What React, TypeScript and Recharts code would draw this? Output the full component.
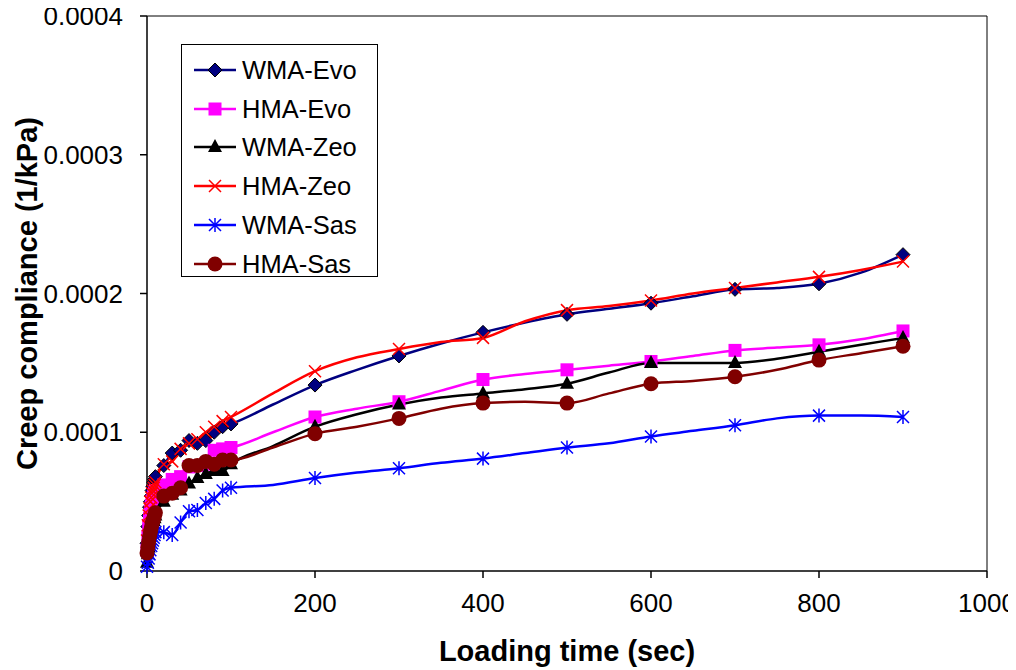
import React from 'react';
import { LineChart, Line, XAxis, YAxis, ReferenceLine } from 'recharts';

// loading time (sec)
const times = [0, 1, 2, 3, 4, 5, 6, 7, 8, 9, 10, 20, 30, 40, 50, 60, 70, 80, 90, 100,
  150, 200, 250, 300, 350, 400, 450, 500, 550, 600, 650, 700, 750, 800, 850, 900];
// times that carry a marker in the original (the rest only shape the smooth line)
const markerTimes = [0, 1, 2, 3, 4, 5, 6, 7, 8, 9, 10, 20, 30, 40, 50, 60, 70, 80, 90, 100,
  200, 300, 400, 500, 600, 700, 800, 900];

// creep compliance (1/kPa)
const wmaEvo = [2.0e-5, 3.2e-5, 4.0e-5, 4.6e-5, 5.0e-5, 5.4e-5, 5.8e-5, 6.1e-5, 6.4e-5, 6.6e-5, 6.8e-5,
  7.6e-5, 8.5e-5, 8.7e-5, 9.4e-5, 9.2e-5, 9.4e-5, 1.0e-4, 1.04e-4, 1.06e-4,
  1.2e-4, 1.34e-4, 1.45e-4, 1.55e-4, 1.64e-4, 1.72e-4, 1.79e-4, 1.85e-4, 1.89e-4, 1.93e-4,
  1.98e-4, 2.03e-4, 2.04e-4, 2.07e-4, 2.15e-4, 2.28e-4];
const hmaEvo = [1.5e-5, 2.5e-5, 3.2e-5, 3.8e-5, 4.3e-5, 4.7e-5, 5.0e-5, 5.2e-5, 5.4e-5, 5.6e-5, 5.8e-5,
  6.2e-5, 6.6e-5, 6.8e-5, 7.5e-5, 7.6e-5, 7.7e-5, 8.7e-5, 8.8e-5, 8.9e-5,
  1.0e-4, 1.11e-4, 1.17e-4, 1.22e-4, 1.3e-4, 1.38e-4, 1.42e-4, 1.45e-4, 1.48e-4, 1.51e-4,
  1.55e-4, 1.59e-4, 1.61e-4, 1.63e-4, 1.67e-4, 1.73e-4];
const wmaZeo = [6e-6, 1.2e-5, 1.7e-5, 2.1e-5, 2.5e-5, 2.8e-5, 3.1e-5, 3.4e-5, 3.6e-5, 3.8e-5, 4.0e-5,
  5.0e-5, 5.5e-5, 5.8e-5, 6.3e-5, 6.7e-5, 7.0e-5, 7.2e-5, 7.2e-5, 7.7e-5,
  9.0e-5, 1.04e-4, 1.13e-4, 1.2e-4, 1.25e-4, 1.28e-4, 1.31e-4, 1.35e-4, 1.43e-4, 1.5e-4,
  1.5e-4, 1.5e-4, 1.53e-4, 1.58e-4, 1.63e-4, 1.68e-4];
const hmaZeo = [2.2e-5, 3.3e-5, 4.0e-5, 4.5e-5, 5.0e-5, 5.3e-5, 5.6e-5, 5.8e-5, 6.0e-5, 6.2e-5, 6.4e-5,
  7.7e-5, 7.9e-5, 8.8e-5, 9.2e-5, 9.5e-5, 1.0e-4, 1.04e-4, 1.08e-4, 1.11e-4,
  1.28e-4, 1.44e-4, 1.54e-4, 1.6e-4, 1.65e-4, 1.68e-4, 1.8e-4, 1.88e-4, 1.91e-4, 1.95e-4,
  2.0e-4, 2.04e-4, 2.08e-4, 2.12e-4, 2.17e-4, 2.23e-4];
const wmaSas = [3e-6, 6e-6, 9e-6, 1.2e-5, 1.5e-5, 1.8e-5, 2.0e-5, 2.2e-5, 2.4e-5, 2.6e-5, 2.8e-5,
  2.8e-5, 2.6e-5, 3.5e-5, 4.3e-5, 4.4e-5, 4.9e-5, 5.2e-5, 5.8e-5, 6.0e-5,
  6.2e-5, 6.7e-5, 7.1e-5, 7.4e-5, 7.8e-5, 8.1e-5, 8.5e-5, 8.9e-5, 9.2e-5, 9.7e-5,
  1.01e-4, 1.05e-4, 1.1e-4, 1.12e-4, 1.12e-4, 1.11e-4];
const hmaSas = [1.3e-5, 1.7e-5, 2.1e-5, 2.5e-5, 2.8e-5, 3.1e-5, 3.4e-5, 3.6e-5, 3.8e-5, 4.0e-5, 4.2e-5,
  5.4e-5, 5.6e-5, 6.0e-5, 7.6e-5, 7.6e-5, 7.9e-5, 7.7e-5, 8.0e-5, 8.0e-5,
  8.9e-5, 9.9e-5, 1.04e-4, 1.1e-4, 1.17e-4, 1.21e-4, 1.22e-4, 1.21e-4, 1.28e-4, 1.35e-4,
  1.37e-4, 1.4e-4, 1.45e-4, 1.52e-4, 1.57e-4, 1.62e-4];

const xTicks = [0, 200, 400, 600, 800, 1000];
const yTicks = [0, 0.0001, 0.0002, 0.0003, 0.0004];

const FONT = '"Liberation Sans", Arial, sans-serif';

type Shape = 'diamond' | 'square' | 'triangle' | 'cross' | 'star' | 'circle';

const series: { key: string; name: string; color: string; shape: Shape; values: number[] }[] = [
  { key: 'wmaEvo', name: 'WMA-Evo', color: '#000080', shape: 'diamond', values: wmaEvo },
  { key: 'hmaEvo', name: 'HMA-Evo', color: '#FF00FF', shape: 'square', values: hmaEvo },
  { key: 'wmaZeo', name: 'WMA-Zeo', color: '#000000', shape: 'triangle', values: wmaZeo },
  { key: 'hmaZeo', name: 'HMA-Zeo', color: '#FF0000', shape: 'cross', values: hmaZeo },
  { key: 'wmaSas', name: 'WMA-Sas', color: '#0000FF', shape: 'star', values: wmaSas },
  { key: 'hmaSas', name: 'HMA-Sas', color: '#800000', shape: 'circle', values: hmaSas },
];

const data = times.map((t, i) => {
  const row: Record<string, number> = { time: t };
  series.forEach((s) => { row[s.key] = s.values[i]; });
  return row;
});

const Marker = ({ shape, color, cx, cy }: { shape: Shape; color: string; cx: number; cy: number }) => {
  switch (shape) {
    case 'diamond':
      return <path d={`M${cx},${cy - 7}L${cx + 7},${cy}L${cx},${cy + 7}L${cx - 7},${cy}Z`} fill={color} stroke="#000" strokeWidth={1} />;
    case 'square':
      return <rect x={cx - 6.5} y={cy - 6.5} width={13} height={13} fill={color} />;
    case 'triangle':
      return <path d={`M${cx},${cy - 8}L${cx + 7},${cy + 5}L${cx - 7},${cy + 5}Z`} fill={color} />;
    case 'cross':
      return <path d={`M${cx - 6},${cy - 6}L${cx + 6},${cy + 6}M${cx + 6},${cy - 6}L${cx - 6},${cy + 6}`} stroke={color} strokeWidth={1.5} fill="none" />;
    case 'star':
      return <path d={`M${cx - 6},${cy - 6}L${cx + 6},${cy + 6}M${cx + 6},${cy - 6}L${cx - 6},${cy + 6}M${cx},${cy - 7}L${cx},${cy + 7}`} stroke={color} strokeWidth={1.5} fill="none" />;
    default:
      return <circle cx={cx} cy={cy} r={7.5} fill={color} />;
  }
};

const makeDot = (shape: Shape, color: string) => (props: any) => {
  const { cx, cy, payload, index } = props;
  if (cx == null || cy == null || !markerTimes.includes(payload.time)) {
    return <g key={`${shape}-${index}`} />;
  }
  return (
    <g key={`${shape}-${index}`}>
      <Marker shape={shape} color={color} cx={cx} cy={cy} />
    </g>
  );
};

const YTitle = ({ viewBox }: any) => {
  const cy = viewBox.y + viewBox.height / 2;
  return (
    <text x={19} y={cy} transform={`rotate(-90, 19, ${cy})`} textAnchor="middle" dominantBaseline="central"
      fontFamily={FONT} fontWeight="bold" fontSize={29} fill="#000">
      Creep compliance (1/kPa)
    </text>
  );
};

const XTitle = ({ viewBox }: any) => (
  <text x={viewBox.x + viewBox.width / 2} y={653} textAnchor="middle"
    fontFamily={FONT} fontWeight="bold" fontSize={29} fill="#000">
    Loading time (sec)
  </text>
);

const LegendBox = () => (
  <div style={{
    position: 'absolute', left: 173, top: 36, width: 195, height: 231,
    border: '1px solid #000', background: '#fff', fontFamily: FONT,
  }}>
    {series.map((s, i) => (
      <div key={s.key} style={{ position: 'absolute', left: 0, top: 6 + i * 38.7, height: 38, display: 'flex', alignItems: 'center' }}>
        <svg width={60} height={38}>
          <line x1={12} x2={54} y1={19} y2={19} stroke={s.color} strokeWidth={2.5} />
          <Marker shape={s.shape} color={s.color} cx={33} cy={19} />
        </svg>
        <span style={{ fontSize: 25.5, color: '#000', lineHeight: '38px' }}>{s.name}</span>
      </div>
    ))}
  </div>
);

const App: React.FC = () => {
  return (
    <div style={{ position: 'relative', width: 1000, height: 662 }}>
      <LineChart width={1000} height={662} data={data} margin={{ top: 8, right: 21, bottom: 39, left: 0 }}>
        <XAxis
          dataKey="time" type="number" domain={[0, 1000]} ticks={xTicks} interval={0}
          height={60} tickSize={7} tickMargin={16}
          tick={{ fontSize: 26, fill: '#000', fontFamily: FONT }}
          axisLine={{ stroke: '#000', strokeWidth: 1.5 }} tickLine={{ stroke: '#000', strokeWidth: 1.5 }}
          label={<XTitle />}
        />
        <YAxis
          type="number" domain={[0, 0.0004]} ticks={yTicks} interval={0} width={139}
          tickSize={7} tickMargin={17}
          tickFormatter={(v: number) => String(v)}
          tick={{ fontSize: 26, fill: '#000', fontFamily: FONT }}
          axisLine={{ stroke: '#000', strokeWidth: 1.5 }} tickLine={{ stroke: '#000', strokeWidth: 1.5 }}
          label={<YTitle />}
        />
        <ReferenceLine y={0.0004} stroke="#000" strokeWidth={1} />
        <ReferenceLine x={1000} stroke="#000" strokeWidth={1} />
        {series.map((s) => (
          <Line
            key={s.key} dataKey={s.key} name={s.name} type="monotone"
            stroke={s.color} strokeWidth={2.5}
            dot={makeDot(s.shape, s.color)} activeDot={false}
            isAnimationActive={false}
          />
        ))}
      </LineChart>
      <LegendBox />
    </div>
  );
};

export default App;
